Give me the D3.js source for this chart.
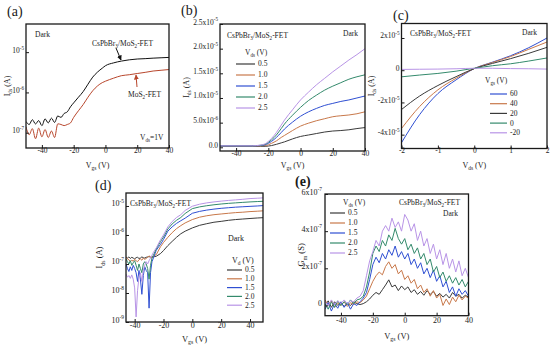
<!DOCTYPE html>
<meta charset="utf-8">
<style>
    body { margin: 0; background: #fff; }
    svg, svg text { font-family: "Liberation Serif", "Times New Roman", serif; }
</style>
<svg width="550" height="346" font-family="Liberation Serif, Times New Roman, serif"></svg>
<script src="https://cdn.jsdelivr.net/npm/d3@7"></script>
<script>

    // ---------- data ----------
    // (a) transfer curves, Vds = 1 V, Ids in A
    var aVgs = [-50, -48, -46, -44, -42, -40, -38, -36, -34, -32, -30, -28, -26, -24, -22, -20, -17, -14, -11, -8, -5, -2, 0, 5, 10, 15, 20, 25, 30, 35, 40];
    var aHybrid = [1.9e-7, 1.6e-7, 2.1e-7, 1.65e-7, 2.0e-7, 1.5e-7, 2.2e-7, 1.75e-7, 2.3e-7, 1.8e-7, 2.6e-7, 2.4e-7, 3.0e-7, 3.3e-7, 4.4e-7, 5.5e-7,
        7.6e-7, 1.05e-6, 1.6e-6, 2.4e-6, 3.2e-6, 4.0e-6, 4.6e-6, 5.4e-6, 6.0e-6, 6.45e-6, 6.75e-6, 6.9e-6, 7.1e-6, 7.25e-6, 7.4e-6];
    var aMoS2 = [1.4e-7, 8.9e-8, 1.26e-7, 7.1e-8, 1.3e-7, 7.9e-8, 1.2e-7, 7.6e-8, 1.1e-7, 7.6e-8, 1.66e-7, 1.6e-7, 1.5e-7, 1.6e-7, 1.75e-7, 2.4e-7,
        3.5e-7, 5.0e-7, 7.6e-7, 1.1e-6, 1.45e-6, 1.75e-6, 1.9e-6, 2.25e-6, 2.6e-6, 2.75e-6, 2.95e-6, 3.15e-6, 3.4e-6, 3.55e-6, 3.7e-6];
    var aYTicks = [1e-7, 1e-6, 1e-5];
    var aYLabels = ["10^{-7}", "10^{-6}", "10^{-5}"];

    // (b) transfer curves, linear, Ids in units of 1e-5 A
    var vdsNames = ["0.5", "1.0", "1.5", "2.0", "2.5"];
    var bVgs = [-50, -40, -30, -25, -22, -20, -18, -15, -12, -10, -5, 0, 5, 10, 15, 20, 25, 30, 35, 40];
    var b05 = [0.02, 0.02, 0.02, 0.02, 0.02, 0.025, 0.035, 0.06, 0.09, 0.11, 0.17, 0.22, 0.25, 0.28, 0.31, 0.33, 0.34, 0.355, 0.38, 0.40];
    var b10 = [0.03, 0.03, 0.03, 0.03, 0.035, 0.05, 0.08, 0.13, 0.2, 0.24, 0.34, 0.43, 0.49, 0.54, 0.58, 0.62, 0.64, 0.655, 0.68, 0.72];
    var b15 = [0.03, 0.03, 0.03, 0.035, 0.05, 0.08, 0.12, 0.2, 0.3, 0.37, 0.51, 0.63, 0.72, 0.79, 0.85, 0.89, 0.93, 0.96, 1.0, 1.04];
    var b20 = [0.03, 0.03, 0.03, 0.04, 0.06, 0.1, 0.15, 0.25, 0.38, 0.47, 0.65, 0.81, 0.95, 1.06, 1.16, 1.24, 1.31, 1.38, 1.43, 1.47];
    var b25 = [0.03, 0.03, 0.03, 0.045, 0.07, 0.12, 0.18, 0.3, 0.45, 0.55, 0.76, 0.96, 1.12, 1.27, 1.4, 1.53, 1.65, 1.77, 1.88, 2.0];
    var bYTicks = [0, 0.5, 1.0, 1.5, 2.0, 2.5];
    var bYLabels = ["0.0", "5.0x10^{-6}", "1.0x10^{-5}", "1.5x10^{-5}", "2.0x10^{-5}", "2.5x10^{-5}"];

    // (c) output curves, Ids in units of 1e-5 A
    var vgsNames = ["60", "40", "20", "0", "-20"];
    var cVds = [-2, -1.5, -1, -0.5, 0, 0.5, 1, 1.5, 2];
    var c60 = [-4.5, -2.75, -1.45, -0.6, 0.1, 0.5, 0.9, 1.4, 2.0];
    var c40 = [-3.62, -2.25, -1.22, -0.5, 0.1, 0.48, 0.85, 1.3, 1.75];
    var c20 = [-2.44, -1.6, -0.95, -0.4, 0.1, 0.42, 0.72, 1.05, 1.42];
    var c0 = [-0.41, -0.3, -0.2, -0.06, 0.12, 0.28, 0.4, 0.57, 0.76];
    var cm20 = [0.05, 0.06, 0.07, 0.09, 0.12, 0.12, 0.1, 0.09, 0.07];
    var cYTicks = [-4, -2, 0, 2];
    var cYLabels = ["-4x10^{-5}", "-2x10^{-5}", "0", "2x10^{-5}"];
    var cXTicks = [-2, -1, 0, 1, 2];

    // (d) transfer curves, log, Ids in A
    var dVgs = [-46, -45, -44, -43, -42, -41, -40, -39, -38, -37, -36, -35, -34, -33, -32, -31, -30, -29, -28, -27, -26, -25,
        -22, -20, -17, -14, -11, -8, -5, 0, 5, 10, 15, 20, 25, 30, 35, 40, 45, 49];
    var d05 = [1.7e-7, 1.6e-7, 1.75e-7, 1.55e-7, 1.7e-7, 1.6e-7, 1.5e-7, 1.65e-7, 1.7e-7, 1.55e-7, 1.6e-7, 1.75e-7, 1.65e-7, 1.6e-7, 1.7e-7, 1.75e-7, 1.8e-7, 1.7e-7, 1.75e-7, 1.8e-7, 1.8e-7, 1.85e-7,
        2.3e-7, 2.9e-7, 4.3e-7, 6.0e-7, 8.3e-7, 1.1e-6, 1.35e-6, 1.75e-6, 2.15e-6, 2.45e-6, 2.75e-6, 2.95e-6, 3.2e-6, 3.4e-6, 3.55e-6, 3.7e-6, 3.85e-6, 3.95e-6];
    var d10 = [1.8e-7, 1.5e-7, 1.4e-7, 1.2e-7, 1.35e-7, 1.25e-7, 1.45e-7, 1.3e-7, 1.2e-7, 1.4e-7, 1.5e-7, 1.35e-7, 1.6e-7, 1.45e-7, 1.55e-7, 1.7e-7, 1.9e-7, 1.75e-7, 1.6e-7, 1.85e-7, 2.0e-7, 2.1e-7,
        4.0e-7, 5.5e-7, 8.3e-7, 1.2e-6, 1.65e-6, 2.1e-6, 2.6e-6, 3.4e-6, 4.1e-6, 4.6e-6, 5.0e-6, 5.3e-6, 5.6e-6, 5.9e-6, 6.1e-6, 6.4e-6, 6.6e-6, 6.8e-6];
    var d15 = [1.0e-7, 7e-8, 5.5e-8, 8e-8, 6e-8, 9e-8, 7e-8, 5e-8, 2.5e-8, 6e-8, 3e-8, 9e-9, 4e-8, 8e-8, 6e-8, 5e-8, 3e-9, 5e-8, 1.2e-7, 1.6e-7, 2.2e-7, 3.0e-7,
        4.8e-7, 7.0e-7, 1.35e-6, 1.9e-6, 2.5e-6, 3.1e-6, 3.8e-6, 5.6e-6, 6.5e-6, 7.2e-6, 7.8e-6, 8.3e-6, 8.7e-6, 9.1e-6, 9.4e-6, 9.7e-6, 1.0e-5, 1.03e-5];
    var d20 = [1.5e-7, 1.2e-7, 1.0e-7, 1.3e-7, 9e-8, 1.1e-7, 1.3e-7, 9e-8, 6e-8, 1.0e-7, 7e-8, 5e-8, 1.0e-7, 1.2e-7, 1.0e-7, 7e-8, 3e-8, 9e-8, 1.6e-7, 2.0e-7, 2.6e-7, 3.3e-7,
        6.0e-7, 8.5e-7, 1.6e-6, 2.4e-6, 3.2e-6, 4.0e-6, 5.5e-6, 8.1e-6, 9.3e-6, 1.02e-5, 1.1e-5, 1.17e-5, 1.23e-5, 1.28e-5, 1.33e-5, 1.38e-5, 1.42e-5, 1.45e-5];
    var d25 = [4.5e-8, 3.5e-8, 4.0e-8, 3.2e-8, 4.2e-8, 3.0e-8, 1.5e-8, 1.5e-9, 1.2e-8, 3.5e-8, 5e-8, 2.5e-8, 6e-8, 9e-8, 1.2e-7, 1.0e-7, 1.3e-7, 1.6e-7, 2.0e-7, 2.5e-7, 3.0e-7, 3.6e-7,
        7.0e-7, 1.0e-6, 1.9e-6, 2.9e-6, 4.0e-6, 5.0e-6, 7.0e-6, 9.8e-6, 1.15e-5, 1.28e-5, 1.38e-5, 1.47e-5, 1.55e-5, 1.62e-5, 1.7e-5, 1.8e-5, 1.85e-5, 1.9e-5];
    var dYTicks = [1e-9, 1e-8, 1e-7, 1e-6, 1e-5];
    var dYLabels = ["10^{-9}", "10^{-8}", "10^{-7}", "10^{-6}", "10^{-5}"];

    // (e) transconductance, Gm in units of 1e-7 S
    var eVgs = d3.range(-50, 41, 2);
    var e05 = [0.0, 0.25, -0.1, 0.2, 0.0, 0.15, -0.05, 0.1, 0.0, 0.2, 0.1, 0.05, 0.1, 0.2, 0.35, 0.55, 0.7, 0.6, 0.85, 1.1,
        1.38, 1.0, 1.1, 0.8, 1.05, 0.85, 1.0, 0.7, 0.85, 0.6, 0.75, 0.55, 0.8, 0.6, 0.75, 0.5, 0.65, 0.45, 0.6, 0.4, 0.7, 0.5, 0.6, 0.4, 0.55, 0.45];
    var e10 = [0.3, 0.0, 0.25, -0.1, 0.15, 0.0, 0.2, -0.05, 0.15, 0.05, 0.2, 0.15, 0.3, 0.5, 0.9, 1.3, 1.6, 1.8, 1.65, 2.1,
        2.35, 2.0, 2.2, 1.7, 1.9, 1.4, 1.6, 1.2, 1.4, 0.9, 1.1, 0.7, 0.9, 0.5, 0.8, 0.4, 0.6, 0.0, 0.35, 0.05, 0.45, 0.2, 0.55, 0.3, 0.5, 0.4];
    var e15 = [-0.2, 0.15, -0.3, 0.1, -0.15, 0.2, -0.1, 0.15, -0.2, 0.1, 0.0, 0.2, 0.4, 0.7, 1.4, 2.2, 2.6, 2.3, 2.8, 2.5,
        3.0, 2.7, 3.2, 2.6, 2.9, 2.5, 2.8, 2.2, 2.5, 2.0, 2.3, 1.7, 2.0, 1.5, 1.9, 1.3, 1.6, 1.0, 1.3, 0.7, 1.0, 0.5, 0.9, 0.6, 0.8, 0.5];
    var e20 = [0.1, -0.2, 0.2, -0.1, 0.25, 0.0, 0.2, 0.05, 0.3, 0.1, 0.3, 0.35, 0.5, 1.0, 1.8, 2.8, 3.2, 2.9, 3.5, 3.2,
        3.8, 3.5, 4.15, 3.6, 3.3, 3.6, 3.0, 3.3, 2.8, 3.1, 2.5, 2.8, 2.2, 2.5, 1.8, 2.1, 1.5, 1.8, 1.3, 1.6, 1.2, 1.5, 1.1, 1.4, 1.0, 1.3];
    var e25 = [0.2, 0.0, 0.3, 0.05, 0.25, 0.1, 0.3, 0.1, 0.25, 0.2, 0.4, 0.5, 0.8, 1.6, 2.4, 2.9, 3.5, 3.2, 4.0, 4.3,
        4.0, 4.7, 4.2, 4.5, 4.0, 4.9, 4.6, 4.0, 4.4, 3.5, 4.0, 3.2, 3.6, 2.8, 3.3, 2.5, 3.0, 2.2, 2.8, 2.0, 2.5, 1.8, 2.4, 1.6, 2.0, 1.5];
    var eYTicks = [0, 2, 4, 6];
    var eYLabels = ["0", "2x10^{-7}", "4x10^{-7}", "6x10^{-7}"];

    var vgsTicks = [-40, -20, 0, 20, 40];

    // ---------- drawing ----------
    var svg = d3.select("svg");
    var serif = "Liberation Serif, Times New Roman, serif";
    var ink = "#1a1a1a";
    var colors = ["#3a3a3a", "#c8784a", "#2f4fd2", "#348a6c", "#b894e6"];

    // "I_{ds}" -> [["I",""],["ds","sub"]]
    function parse(str) {
        var parts = [], re = /([_^])\{([^}]*)\}/g, last = 0, m;
        while ((m = re.exec(str))) {
            if (m.index > last) parts.push([str.slice(last, m.index), ""]);
            parts.push([m[2], m[1] == "^" ? "sup" : "sub"]);
            last = re.lastIndex;
        }
        if (last < str.length) parts.push([str.slice(last), ""]);
        return parts;
    }

    function rich(text, str, fs) {
        var cur = 0;
        text.text(null).attr("font-family", serif);
        parse(str).forEach(function (p) {
            var off = p[1] == "sup" ? -0.42 * fs : p[1] == "sub" ? 0.3 * fs : 0;
            text.append("tspan")
                .attr("dy", off - cur)
                .attr("font-size", p[1] ? fs * 0.68 : fs)
                .text(p[0]);
            cur = off;
        });
        return text;
    }

    function label(x, y, str, fs, anchor, rotate) {
        var t = svg.append("text")
            .attr("x", x).attr("y", y)
            .attr("font-size", fs)
            .attr("text-anchor", anchor || "start")
            .attr("fill", ink);
        if (rotate) t.attr("transform", "rotate(-90," + x + "," + y + ")");
        return rich(t, str, fs);
    }

    function panel(p) {
        var x = d3.scaleLinear().domain(p.xDomain).range([p.left, p.right]);
        var y = (p.log ? d3.scaleLog() : d3.scaleLinear()).domain(p.yDomain).range([p.bottom, p.top]);

        var clipId = "clip-" + p.id;
        svg.append("clipPath").attr("id", clipId).append("rect")
            .attr("x", p.left).attr("y", p.top)
            .attr("width", p.right - p.left).attr("height", p.bottom - p.top);

        var line = d3.line()
            .x(function (d) { return x(d[0]); })
            .y(function (d) { return y(d[1]); })
            .curve(p.curve || d3.curveLinear);

        var g = svg.append("g").attr("clip-path", "url(#" + clipId + ")");
        p.series.forEach(function (s) {
            g.append("path")
                .datum(d3.zip(p.xs, s.values))
                .attr("fill", "none")
                .attr("stroke", s.color)
                .attr("stroke-width", 1)
                .attr("stroke-linejoin", "round")
                .attr("d", line);
        });

        var xa = svg.append("g")
            .attr("transform", "translate(0," + p.bottom + ")")
            .call(d3.axisBottom(x).tickValues(p.xTicks).tickSizeInner(-3).tickSizeOuter(0).tickPadding(p.xPad));
        xa.selectAll(".tick text").each(function (d, i) { rich(d3.select(this), p.xLabels[i], p.fs); });

        var ya = svg.append("g")
            .attr("transform", "translate(" + p.left + ",0)")
            .call(d3.axisLeft(y).tickValues(p.yTicks).tickSizeInner(-3).tickSizeOuter(0).tickPadding(p.yPad));
        ya.selectAll(".tick text").each(function (d, i) { rich(d3.select(this), p.yLabels[i], p.fs); });

        [xa, ya].forEach(function (a) {
            a.attr("font-family", serif).attr("font-size", p.fs);
            a.select(".domain").remove();
            a.selectAll(".tick line").attr("stroke", ink).attr("stroke-width", 1);
            a.selectAll(".tick text").attr("fill", ink);
        });

        svg.append("rect")
            .attr("x", p.left).attr("y", p.top)
            .attr("width", p.right - p.left).attr("height", p.bottom - p.top)
            .attr("fill", "none").attr("stroke", ink).attr("stroke-width", 1.3);

        label((p.left + p.right) / 2, p.xLabelY, p.xTitle, p.fs + 0.5, "middle");
        label(p.yLabelX, (p.top + p.bottom) / 2, p.yTitle, p.fs + 0.5, "middle", true);
        return { x: x, y: y };
    }

    function legend(x0, x1, y0, step, names, cols, fs) {
        names.forEach(function (n, i) {
            var yy = y0 + i * step;
            svg.append("line").attr("x1", x0).attr("x2", x1).attr("y1", yy).attr("y2", yy)
                .attr("stroke", cols[i]).attr("stroke-width", 1.2);
            label(x1 + 3, yy + fs * 0.33, n, fs);
        });
    }

    var vgsStrings = vgsTicks.map(String);

    // (a)
    panel({
        id: "a", left: 26, right: 169, top: 24, bottom: 148,
        xDomain: [-50, 40], yDomain: [4.17e-8, 5.0e-5], log: true, curve: d3.curveMonotoneX,
        xs: aVgs,
        series: [{ values: aMoS2, color: "#b8462c" }, { values: aHybrid, color: "#111" }],
        xTicks: vgsTicks, xLabels: vgsStrings, yTicks: aYTicks, yLabels: aYLabels,
        fs: 7.5, xPad: 5, yPad: 2, xLabelY: 168, yLabelX: 10,
        xTitle: "V_{gs} (V)", yTitle: "I_{ds} (A)"
    });
    label(7, 16, "(a)", 14);
    label(35, 36.5, "Dark", 7.5);
    label(92, 45.5, "CsPbBr_{3}/MoS_{2}-FET", 7.5);
    label(128, 96.5, "MoS_{2}-FET", 7.5);
    label(140, 140, "V_{ds}=1V", 7.5);

    var defs = svg.append("defs");
    [["arrowK", "#111"], ["arrowR", "#b8462c"]].forEach(function (m) {
        defs.append("marker").attr("id", m[0]).attr("viewBox", "0 0 10 10")
            .attr("refX", 9).attr("refY", 5).attr("markerWidth", 5).attr("markerHeight", 5)
            .attr("orient", "auto")
            .append("path").attr("d", "M0,0L10,5L0,10z").attr("fill", m[1]);
    });
    svg.append("line").attr("x1", 116).attr("y1", 48).attr("x2", 121).attr("y2", 60)
        .attr("stroke", "#111").attr("stroke-width", 1).attr("marker-end", "url(#arrowK)");
    svg.append("line").attr("x1", 137).attr("y1", 87).attr("x2", 136).attr("y2", 75)
        .attr("stroke", "#b8462c").attr("stroke-width", 1).attr("marker-end", "url(#arrowR)");

    // (b)
    panel({
        id: "b", left: 220, right: 365, top: 24, bottom: 151,
        xDomain: [-50, 40], yDomain: [-0.075, 2.5], curve: d3.curveMonotoneX,
        xs: bVgs,
        series: [b05, b10, b15, b20, b25].map(function (v, i) { return { values: v, color: colors[i] }; }),
        xTicks: vgsTicks, xLabels: vgsStrings, yTicks: bYTicks, yLabels: bYLabels,
        fs: 7.5, xPad: 5, yPad: 2, xLabelY: 168, yLabelX: 189,
        xTitle: "V_{gs} (V)", yTitle: "I_{ds} (A)"
    });
    label(181, 15, "(b)", 14);
    label(227, 37.5, "CsPbBr_{3}/MoS_{2}-FET", 7.5);
    label(343, 35.5, "Dark", 7.5);
    label(245, 54.5, "V_{ds} (V)", 7.5);
    legend(236, 255, 64, 11, vdsNames, colors, 7.5);

    // (c)
    var cColors = [colors[2], colors[1], colors[0], colors[3], colors[4]];
    panel({
        id: "c", left: 401.5, right: 547, top: 23.5, bottom: 148.5,
        xDomain: [-2, 2], yDomain: [-4.86, 2.9], curve: d3.curveMonotoneX,
        xs: cVds,
        series: [c60, c40, c20, c0, cm20].map(function (v, i) { return { values: v, color: cColors[i] }; }),
        xTicks: cXTicks, xLabels: cXTicks.map(String), yTicks: cYTicks, yLabels: cYLabels,
        fs: 7.5, xPad: 4, yPad: 2, xLabelY: 168, yLabelX: 374,
        xTitle: "V_{ds} (V)", yTitle: "I_{ds} (A)"
    });
    label(393, 19.5, "(c)", 14);
    label(410, 35.5, "CsPbBr_{3}/MoS_{2}-FET", 7.5);
    label(522, 34.5, "Dark", 7.5);
    label(485, 82.5, "V_{gs} (V)", 7.5);
    legend(490, 507, 94, 9.7, vgsNames, cColors, 7.5);

    // (d)
    panel({
        id: "d", left: 126, right: 263, top: 193, bottom: 322,
        xDomain: [-46, 49], yDomain: [1e-9, 2.8e-5], log: true,
        xs: dVgs,
        series: [d05, d10, d15, d20, d25].map(function (v, i) { return { values: v, color: colors[i] }; }),
        xTicks: vgsTicks, xLabels: vgsStrings, yTicks: dYTicks, yLabels: dYLabels,
        fs: 8, xPad: 6, yPad: 2, xLabelY: 341.5, yLabelX: 102,
        xTitle: "V_{gs} (V)", yTitle: "I_{ds} (A)"
    });
    label(95, 189.5, "(d)", 14);
    label(130, 205.5, "CsPbBr_{3}/MoS_{2}-FET", 7.5);
    label(228, 240.5, "Dark", 8);
    label(232, 262.5, "V_{d} (V)", 8);
    legend(227, 242, 270, 8.8, vdsNames, colors, 7.5);

    // (e)
    panel({
        id: "e", left: 325, right: 468.5, top: 194, bottom: 315.7,
        xDomain: [-50, 40], yDomain: [-0.55, 6],
        xs: eVgs,
        series: [e05, e10, e15, e20, e25].map(function (v, i) { return { values: v, color: colors[i] }; }),
        xTicks: vgsTicks, xLabels: vgsStrings, yTicks: eYTicks, yLabels: eYLabels,
        fs: 8, xPad: 7, yPad: 3, xLabelY: 338.5, yLabelX: 304,
        xTitle: "V_{gs} (V)", yTitle: "G_{m} (S)"
    });
    label(295, 186, "(e)", 14).attr("font-weight", "bold");
    label(343, 204.5, "V_{ds} (V)", 7.5);
    legend(330, 345, 213, 10, vdsNames, colors, 7.5);
    label(460, 204.5, "CsPbBr_{3}/MoS_{2}-FET", 7.5, "end");
    label(458, 215.5, "Dark", 7.5, "end");

</script>
